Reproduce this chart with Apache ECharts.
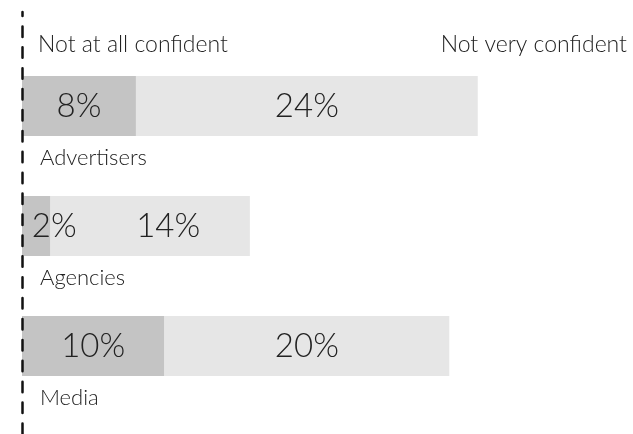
<!DOCTYPE html>
<html>
<head>
<meta charset="utf-8">
<script src="https://cdn.jsdelivr.net/npm/echarts@6/dist/echarts.min.js"></script>
<style>
  html, body { margin: 0; padding: 0; background: #fff; }
  #main { width: 633px; height: 434px; }
</style>
</head>
<body>
<div id="main"></div>
<script>
var categories = ['Advertisers', 'Agencies', 'Media'];
var notAtAll = [8, 2, 10];
var notVery = [24, 14, 20];
var seriesNames = ['Not at all confident', 'Not very confident'];

var font = 'Lato';
var textColor = '#222';
// agencies labels are nudged right in the original so they don't collide
var labelShift = { 'Agencies': 18 };

function buildData(values) {
    return values.map(function (v, i) {
        var item = { value: v };
        if (labelShift[categories[i]]) {
            item.label = { offset: [labelShift[categories[i]], 0] };
        }
        return item;
    });
}

var myChart = echarts.init(document.getElementById('main'));
var option = {
    animation: false,
    backgroundColor: '#fff',
    title: [
        {
            text: seriesNames[0], left: 33, top: 28,
            textStyle: { fontFamily: font, fontWeight: 300, fontSize: 23, color: textColor }
        },
        {
            text: seriesNames[1], right: 1, top: 28,
            textStyle: { fontFamily: font, fontWeight: 300, fontSize: 23, color: textColor }
        }
    ],
    grid: [
        { left: 22, right: 0, top: 46, bottom: 28 },
        { left: 22, right: 0, top: 12, bottom: 0 }
    ],
    xAxis: [
        { type: 'value', min: 0, max: 42.9, show: false, gridIndex: 0 },
        { type: 'value', min: 0, max: 1, show: false, gridIndex: 1 }
    ],
    yAxis: [
        {
            type: 'category',
            data: categories,
            inverse: true,
            gridIndex: 0,
            axisLine: { show: false },
            axisTick: { show: false },
            axisLabel: {
                inside: true,
                margin: 18,
                verticalAlign: 'top',
                padding: [41, 0, 0, 0],
                fontFamily: font,
                fontWeight: 300,
                fontSize: 22,
                color: textColor
            }
        },
        {
            type: 'value',
            gridIndex: 1,
            min: 0, max: 1,
            z: 10,
            axisLine: {
                show: true,
                lineStyle: { color: '#111', width: 2.5, type: [10.5, 10.4] }
            },
            axisTick: { show: false },
            axisLabel: { show: false },
            splitLine: { show: false }
        }
    ],
    series: [
        {
            name: seriesNames[0],
            type: 'bar',
            stack: 'total',
            barWidth: 60,
            xAxisIndex: 0,
            yAxisIndex: 0,
            itemStyle: { color: '#c4c4c4' },
            label: {
                show: true,
                position: 'inside',
                formatter: '{c}%',
                fontFamily: font,
                fontWeight: 300,
                fontSize: 33,
                color: textColor
            },
            data: buildData(notAtAll)
        },
        {
            name: seriesNames[1],
            type: 'bar',
            stack: 'total',
            barWidth: 60,
            xAxisIndex: 0,
            yAxisIndex: 0,
            itemStyle: { color: '#e6e6e6' },
            label: {
                show: true,
                position: 'inside',
                formatter: '{c}%',
                fontFamily: font,
                fontWeight: 300,
                fontSize: 33,
                color: textColor
            },
            data: buildData(notVery)
        }
    ]
};
myChart.setOption(option);
</script>
</body>
</html>
